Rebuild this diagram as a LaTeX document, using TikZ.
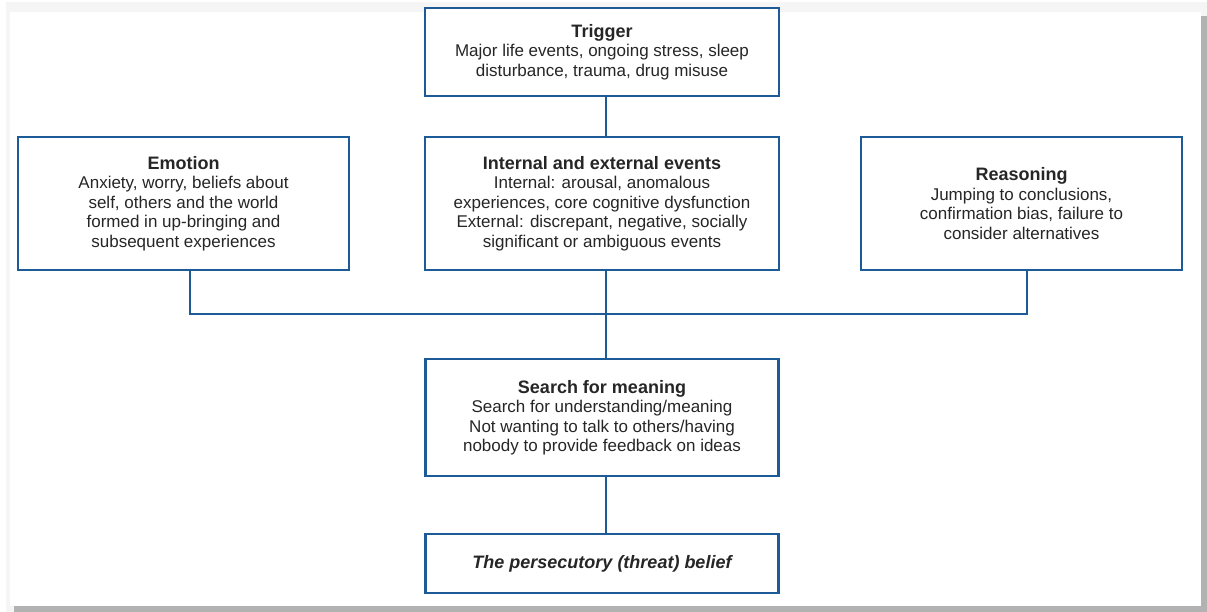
\documentclass[tikz,border=0pt]{standalone}
\usepackage{fontspec}
\setmainfont{Liberation Sans}
\definecolor{boxblue}{HTML}{1D5A98}
\newcommand{\boxtitle}[1]{{\fontsize{18}{19.5}\selectfont\bfseries #1}}
\begin{document}
\begin{tikzpicture}[x=1pt,y=-1pt,
  box/.style={draw=boxblue,line width=2.4pt,fill=white,align=center,inner sep=0pt,
    font=\fontsize{17}{19.5}\selectfont,text=black!85},
  link/.style={draw=boxblue,line width=2.4pt}]
\useasboundingbox (0,0) rectangle (1207,612);
\fill[white] (0,0) rectangle (1207,612);
\fill[black!4] (6,2) rectangle (1207,612);
\fill[black!30] (14,16) rectangle (1207,612);
\fill[white] (10,12) rectangle (1201,606);
\node[box,minimum width=354pt,minimum height=88pt] (trig) at (602,52)
  {\boxtitle{Trigger}\\Major life events, ongoing stress, sleep\\disturbance, trauma, drug misuse};
\node[box,minimum width=354pt,minimum height=133pt] (int) at (602,203.5)
  {\boxtitle{Internal and external events}\\Internal: arousal, anomalous\\experiences, core cognitive dysfunction\\External: discrepant, negative, socially\\significant or ambiguous events};
\node[box,minimum width=331pt,minimum height=133pt] (emo) at (183.5,203.5)
  {\boxtitle{Emotion}\\Anxiety, worry, beliefs about\\self, others and the world\\formed in up-bringing and\\subsequent experiences};
\node[box,minimum width=321pt,minimum height=133pt] (rea) at (1021.5,203.5)
  {\boxtitle{Reasoning}\\Jumping to conclusions,\\confirmation bias, failure to\\consider alternatives};
\node[box,minimum width=353pt,minimum height=117pt] (sea) at (602,417.5)
  {\boxtitle{Search for meaning}\\Search for understanding/meaning\\Not wanting to talk to others/having\\nobody to provide feedback on ideas};
\node[box,minimum width=353pt,minimum height=59pt] (per) at (602,563.5)
  {\boxtitle{\itshape The persecutory (threat) belief}};
\coordinate (bus) at (606,314);
\draw[link] ([xshift=4pt]trig.south) -- ([xshift=4pt]int.north);
\draw[link] ([xshift=4pt]int.south) -- ([xshift=4pt]sea.north);
\draw[link] ([xshift=6.5pt]emo.south) |- (bus);
\draw[link] ([xshift=5.5pt]rea.south) |- (bus);
\draw[link] ([xshift=4pt]sea.south) -- ([xshift=4pt]per.north);
\end{tikzpicture}
\end{document}
